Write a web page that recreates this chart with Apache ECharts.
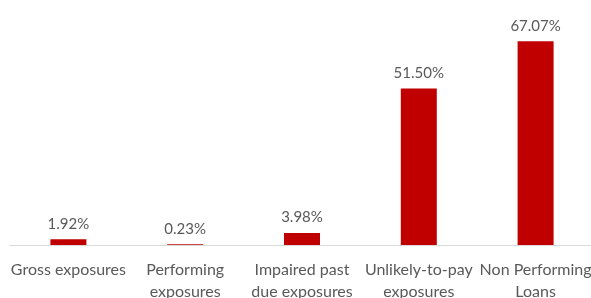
<!DOCTYPE html>
<html>
<head>
  <meta charset="utf-8"/>
  <title>Exposures chart</title>
  <script src="https://cdn.jsdelivr.net/npm/echarts@6/dist/echarts.min.js"></script>
  <style>
    html, body { margin: 0; padding: 0; background: #fff; }
    #chart { width: 591px; height: 298px; }
  </style>
</head>
<body>
<div id="chart"></div>
<script>
  // categories and values (percent)
  var categories = [
    'Gross exposures',
    'Performing\nexposures',
    'Impaired past\ndue exposures',
    'Unlikely-to-pay\nexposures',
    'Non Performing\nLoans'
  ];
  var values = [1.92, 0.23, 3.98, 51.50, 67.07];

  var myChart = echarts.init(document.getElementById('chart'));

  var option = {
    animation: false,
    grid: {
      left: 10, right: -3, top: 2, bottom: 53,
      containLabel: false,
      outerBoundsMode: 'none'
    },
    xAxis: {
      type: 'category',
      data: categories,
      z: 10,
      axisLine: { show: true, lineStyle: { color: '#d9d9d9', width: 1 } },
      axisTick: { show: false },
      axisLabel: {
        interval: 0,
        color: '#595959',
        fontFamily: 'Lato',
        fontSize: 16,
        lineHeight: 22,
        margin: 14
      }
    },
    yAxis: {
      type: 'value',
      min: 0,
      max: 80,
      show: false,
      splitLine: { show: false }
    },
    series: [{
      type: 'bar',
      data: values,
      barWidth: 36,
      itemStyle: { color: '#c00000' },
      label: {
        show: true,
        position: 'top',
        distance: 8,
        color: '#595959',
        fontFamily: 'Lato',
        fontSize: 15,
        formatter: function (p) { return p.value.toFixed(2) + '%'; }
      }
    }]
  };

  myChart.setOption(option);
</script>
</body>
</html>
